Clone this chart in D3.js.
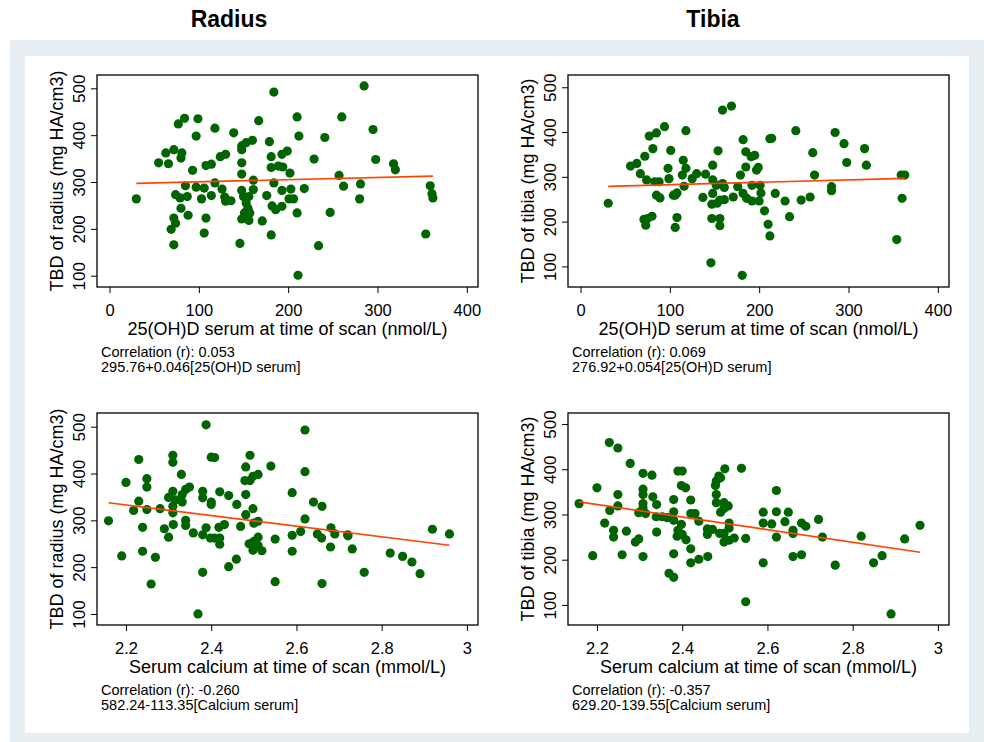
<!DOCTYPE html>
<html>
<head>
<meta charset="utf-8">
<script src="https://cdn.jsdelivr.net/npm/d3@7"></script>
<style>
  body { margin: 0; background: #fff; }
  text { font-family: 'Liberation Sans', Arial, sans-serif; fill: #000; }
</style>
</head>
<body>
<div id="chart"></div>
<script>
// [25(OH)D serum nmol/L, TBD mg HA/cm3]
const radiusVitD = [[30,264],[184,492],[285,505],[77,424],[84,436],[99,435],[118,415],[97,398],[139,405],[167,431],[210,439],[260,439],[295,412],[212,398],[241,395],[148,377],[153,384],[160,389],[148,369],[179,386],[63,362],[72,369],[81,362],[80,351],[55,341],[66,339],[93,325],[108,335],[114,338],[124,354],[130,359],[148,341],[148,317],[181,354],[181,331],[189,334],[193,359],[199,366],[194,332],[202,319],[229,349],[298,348],[318,339],[320,326],[257,314],[262,291],[281,296],[280,264],[359,292],[361,275],[362,266],[354,189],[85,292],[74,273],[79,266],[87,269],[80,244],[72,223],[74,212],[69,199],[72,166],[88,229],[97,289],[106,287],[103,264],[114,271],[118,298],[126,285],[129,268],[130,259],[136,260],[108,223],[106,191],[146,169],[148,282],[150,269],[156,269],[161,304],[161,284],[153,255],[155,244],[151,234],[157,234],[148,221],[156,218],[171,217],[176,271],[184,298],[193,282],[182,249],[186,241],[193,248],[181,187],[203,285],[201,264],[206,264],[210,234],[218,286],[211,101],[234,164],[247,235]];
const tibiaVitD = [[31,241],[159,449],[169,458],[94,412],[77,391],[85,398],[118,403],[182,383],[212,385],[214,386],[241,403],[285,399],[295,374],[318,363],[298,332],[320,326],[260,354],[262,304],[281,278],[281,269],[257,255],[247,248],[234,211],[359,304],[363,304],[360,252],[354,160],[81,363],[72,346],[101,359],[56,324],[63,330],[67,307],[74,293],[83,289],[88,289],[98,319],[99,296],[115,337],[118,319],[114,304],[116,279],[125,296],[130,307],[140,306],[148,326],[154,358],[148,293],[152,281],[159,285],[161,276],[148,263],[137,254],[147,239],[153,241],[156,248],[161,249],[171,255],[176,278],[179,304],[185,322],[185,356],[191,345],[195,348],[197,315],[199,321],[192,281],[201,281],[182,263],[186,252],[192,246],[200,246],[202,264],[218,263],[229,246],[206,224],[210,194],[212,168],[85,259],[89,253],[104,259],[108,264],[106,259],[71,205],[75,207],[80,212],[73,192],[108,209],[106,187],[147,207],[156,207],[156,191],[146,108],[181,80]];

// [serum calcium mmol/L, TBD mg HA/cm3]
const radiusCalcium = [[2.159,299],[2.19,224],[2.2,381],[2.23,430],[2.23,341],[2.218,321],[2.249,389],[2.249,371],[2.249,323],[2.239,285],[2.239,234],[2.259,164],[2.269,221],[2.28,325],[2.29,282],[2.3,264],[2.3,349],[2.31,439],[2.31,424],[2.31,362],[2.31,330],[2.31,316],[2.311,291],[2.316,344],[2.33,398],[2.332,355],[2.332,339],[2.34,366],[2.349,371],[2.34,300],[2.34,289],[2.358,273],[2.38,362],[2.38,348],[2.388,504],[2.4,435],[2.408,434],[2.4,339],[2.4,334],[2.38,269],[2.388,284],[2.398,262],[2.408,262],[2.42,262],[2.42,249],[2.418,285],[2.431,291],[2.42,361],[2.441,353],[2.46,334],[2.469,287],[2.38,189],[2.369,100],[2.441,201],[2.459,217],[2.481,414],[2.491,439],[2.479,385],[2.491,385],[2.498,394],[2.51,398],[2.481,355],[2.481,312],[2.498,325],[2.5,294],[2.51,298],[2.489,250],[2.5,255],[2.51,264],[2.51,246],[2.498,236],[2.519,235],[2.54,416],[2.55,260],[2.55,169],[2.59,359],[2.59,268],[2.59,234],[2.61,276],[2.62,493],[2.62,404],[2.62,303],[2.64,339],[2.66,330],[2.649,271],[2.659,262],[2.681,284],[2.69,271],[2.68,243],[2.66,165],[2.72,269],[2.721,267],[2.731,239],[2.759,189],[2.82,230],[2.849,223],[2.871,211],[2.89,186],[2.919,281],[2.959,271]];
const tibiaCalcium = [[2.158,324],[2.19,209],[2.2,359],[2.218,281],[2.229,459],[2.249,447],[2.23,309],[2.249,344],[2.249,319],[2.239,265],[2.239,250],[2.259,211],[2.269,263],[2.278,413],[2.29,239],[2.298,246],[2.308,391],[2.308,356],[2.308,344],[2.308,324],[2.308,315],[2.298,304],[2.314,302],[2.308,207],[2.329,387],[2.331,339],[2.34,322],[2.339,295],[2.34,261],[2.353,295],[2.365,293],[2.38,333],[2.38,306],[2.38,287],[2.39,396],[2.4,396],[2.398,364],[2.408,359],[2.398,278],[2.39,265],[2.388,252],[2.4,256],[2.409,244],[2.38,213],[2.369,170],[2.38,161],[2.42,332],[2.42,302],[2.43,302],[2.439,285],[2.42,224],[2.42,193],[2.439,201],[2.46,207],[2.459,268],[2.471,267],[2.459,256],[2.48,374],[2.486,385],[2.49,381],[2.5,401],[2.478,364],[2.48,344],[2.48,326],[2.49,305],[2.498,326],[2.508,319],[2.498,313],[2.51,281],[2.51,270],[2.488,258],[2.498,258],[2.498,239],[2.51,243],[2.522,248],[2.539,402],[2.549,247],[2.549,107],[2.59,305],[2.59,281],[2.59,193],[2.61,279],[2.621,353],[2.621,306],[2.621,250],[2.641,284],[2.649,305],[2.66,265],[2.66,258],[2.66,207],[2.68,281],[2.69,274],[2.68,211],[2.72,289],[2.729,250],[2.759,188],[2.82,252],[2.849,193],[2.869,209],[2.922,246],[2.958,276],[2.89,80]];

// linear fits: TBD = intercept + slope * x
const intercepts = [295.76, 276.92, 582.24, 629.20];
const slopes = [0.046, 0.054, -113.35, -139.55];
const correlations = ['0.053', '0.069', '-0.260', '-0.357'];
const equations = ['295.76+0.046[25(OH)D serum]', '276.92+0.054[25(OH)D serum]',
  '582.24-113.35[Calcium serum]', '629.20-139.55[Calcium serum]'];

const columnTitles = ['Radius', 'Tibia'];
const yTitles = ['TBD of radius (mg HA/cm3)', 'TBD of tibia (mg HA/cm3)'];
const xTitles = ['25(OH)D serum at time of scan (nmol/L)', 'Serum calcium at time of scan (mmol/L)'];

const vitdTicks = [0, 100, 200, 300, 400];
const calciumTicks = [2.2, 2.4, 2.6, 2.8, 3];
const tbdTicks = [100, 200, 300, 400, 500];

const width = 984;
const height = 742;
const plotW = 381;
const plotH = 212;

const svg = d3.select('#chart').append('svg')
  .attr('width', width)
  .attr('height', height);

// stata-ish backdrop
svg.append('rect')
  .attr('x', 10).attr('y', 40)
  .attr('width', 974).attr('height', 702)
  .attr('fill', '#e8eff2');
svg.append('rect')
  .attr('x', 25).attr('y', 56)
  .attr('width', 944).attr('height', 677)
  .attr('fill', '#fff');

svg.selectAll('.col-title')
  .data(columnTitles)
  .enter().append('text')
  .attr('class', 'col-title')
  .attr('x', (d, i) => i === 0 ? 229 : 713)
  .attr('y', 27)
  .attr('text-anchor', 'middle')
  .attr('font-size', 23)
  .attr('font-weight', 'bold')
  .text(d => d);

const panels = [
  { data: radiusVitD, left: 97, top: 75, xDomain: [-14, 412.5], yDomain: [75.9, 528.4], xTicks: vitdTicks, row: 0, col: 0 },
  { data: tibiaVitD, left: 568, top: 75, xDomain: [-14, 412.5], yDomain: [54, 527.4], xTicks: vitdTicks, row: 0, col: 1 },
  { data: radiusCalcium, left: 97, top: 413, xDomain: [2.132, 3.026], yDomain: [76.4, 529.3], xTicks: calciumTicks, row: 1, col: 0 },
  { data: tibiaCalcium, left: 568, top: 413, xDomain: [2.132, 3.026], yDomain: [55.6, 524.4], xTicks: calciumTicks, row: 1, col: 1 }
];

panels.forEach((p, i) => {
  const g = svg.append('g')
    .attr('transform', `translate(${p.left},${p.top})`);

  const x = d3.scaleLinear().domain(p.xDomain).range([0, plotW]);
  const y = d3.scaleLinear().domain(p.yDomain).range([plotH, 0]);

  // y axis with vertical tick labels
  const yAxis = g.append('g')
    .call(d3.axisLeft(y).tickValues(tbdTicks).tickSize(6).tickFormat(d3.format('d')));
  yAxis.select('.domain').remove();
  yAxis.selectAll('line').attr('stroke', '#000');
  yAxis.selectAll('text')
    .attr('transform', 'rotate(-90)')
    .attr('x', 0)
    .attr('y', -12)
    .attr('dy', 0)
    .attr('text-anchor', 'middle')
    .attr('font-size', 17)
    .attr('font-family', null)
    .attr('fill', '#000');

  const xAxis = g.append('g')
    .attr('transform', `translate(0,${plotH})`)
    .call(d3.axisBottom(x).tickValues(p.xTicks).tickSize(6).tickFormat(d => `${d}`));
  xAxis.select('.domain').remove();
  xAxis.selectAll('line').attr('stroke', '#000');
  xAxis.selectAll('text')
    .attr('y', 28.5)
    .attr('dy', 0)
    .attr('font-size', 16.5)
    .attr('font-family', null)
    .attr('fill', '#000');

  g.append('g')
    .selectAll('circle')
    .data(p.data)
    .enter().append('circle')
    .attr('cx', d => x(d[0]))
    .attr('cy', d => y(d[1]))
    .attr('r', 4.6)
    .attr('fill', '#006400');

  // fitted line over the observed x range
  const ext = d3.extent(p.data, d => d[0]);
  const fit = ext.map(v => [v, intercepts[i] + slopes[i] * v]);
  g.append('path')
    .datum(fit)
    .attr('d', d3.line().x(d => x(d[0])).y(d => y(d[1])))
    .attr('fill', 'none')
    .attr('stroke', '#ff4500')
    .attr('stroke-width', 1.7);

  g.append('rect')
    .attr('width', plotW)
    .attr('height', plotH)
    .attr('fill', 'none')
    .attr('stroke', '#000')
    .attr('stroke-width', 1.3);

  g.append('text')
    .attr('transform', `translate(-34,${plotH / 2}) rotate(-90)`)
    .attr('text-anchor', 'middle')
    .attr('font-size', 18)
    .text(yTitles[p.col]);

  g.append('text')
    .attr('x', plotW / 2)
    .attr('y', plotH + 47.5)
    .attr('text-anchor', 'middle')
    .attr('font-size', 18)
    .text(xTitles[p.row]);

  g.append('text')
    .attr('x', 4)
    .attr('y', plotH + 69.5)
    .attr('font-size', 14.5)
    .text(`Correlation (r): ${correlations[i]}`);
  g.append('text')
    .attr('x', 4)
    .attr('y', plotH + 85)
    .attr('font-size', 14.5)
    .text(equations[i]);
});
</script>
</body>
</html>
